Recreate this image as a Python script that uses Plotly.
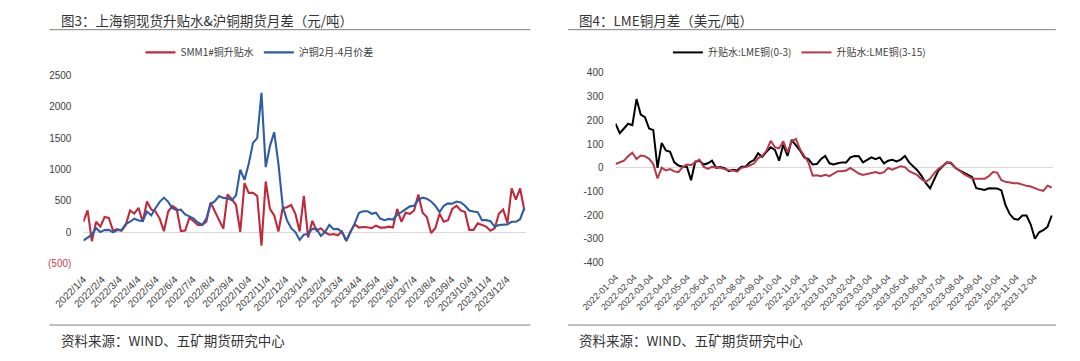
import plotly.graph_objects as go
import pandas as pd

# ---------------- data (weekly readings from the picture) ----------------
dates = pd.date_range("2022-01-04", periods=105, freq="7D")

# 图3: SMM1#铜升贴水 (元/吨)
smm_premium = [
    170, 350, -140, 170, 92, 246, 230, 26, 51, 26, 118, 350, 300, 390, 170, 492,
    364, 333, 220, 20, 333, 420, 374, 20, 30, 230, 180, 118, 118, 170, 477, 323,
    195, 60, 605, 528, 436, 10, 785, 630, 630, 580, -210, 810, 374, 272, 15, 385,
    400, 436, 297, 15, 580,
    -80, 185, 26, 67, 0, -36, -26, -46, 15, -138, 15, 128, 77, 87, 82, 67,
    108, 77, 77, 92, 77, 374, 169, 313, 297, 349, 605, 313, 246, -10, 67, 297,
    169, 195, 374, 425, 349, 323, 41, 41, 144, 118, 92, 26, 67, 297, 364, 150,
    700, 520, 700, 350,
]
# 图3: 沪铜2月-4月价差 (元/吨)
shfe_spread = [
    -130, -77, -36, 67, 5, 36, 40, 0, 36, 36, 133, 170, 220, 190, 180, 333,
    270, 385, 487, 554, 487, 385, 354, 364, 287, 256, 220, 159, 118, 220, 451, 497,
    580, 549, 544, 513, 590, 1000, 836, 1092, 1425, 1500, 2220, 1040, 1374, 1595, 1092, 425,
    195, 67, 5, -120, -36,
    -25, 56, 56, -56, 5, 118, 51, 56, 5, -130, 5, 144, 313, 338, 338, 297,
    313, 220, 195, 215, 205, 282, 323, 374, 415, 425, 518, 554, 538, 492, 425, 323,
    425, 462, 456, 492, 477, 425, 349, 333, 323, 195, 195, 179, 92, 118, 118, 128,
    169, 169, 210, 390,
]
# 图4: 升贴水:LME铜(0-3) (美元/吨)
lme_0_3 = [
    186, 146, 166, 186, 180, 290, 225, 214, 166, 159, 0, 105, 73, 68, 23, 10,
    5, 5, -52, 26, 30, 14, 19, 30, 0, 3, -1, -14, -8, -11, 5, 5,
    23, 33, 61, 46, 68, 87, 76, 30, 98, 50, 118, 95, 73, 44, 37, 14,
    16, 37, 50, 19, 14,
    19, 23, 23, 44, 50, 49, 23, 33, 44, 37, 44, 19, 30, 34, 27, 35,
    50, 23, 5, -11, -35, -65, -87, -45, -11, 7, 23, 19, 0, -11, -20, -31,
    -38, -86, -90, -93, -86, -88, -87, -95, -158, -195, -215, -219, -201, -201, -239, -299,
    -272, -263, -249, -201,
]
# 图4: 升贴水:LME铜(3-15) (美元/吨)
lme_3_15 = [
    16, 23, 30, 49, 64, 37, 52, 49, 38, 16, -45, 0, -11, -5, -15, -18,
    3, 14, 11, 24, 35, 5, -4, 4, 3, 0, -5, -10, -11, -16, 0, 3,
    10, 18, 41, 50, 73, 114, 87, 82, 112, 65, 112, 122, 78, 50, 23, -33,
    -31, -35, -29, -35, -24,
    -14, -14, -11, 0, -14, -24, -30, -27, -22, -18, -24, -18, 0, -8, 0, 7,
    3, -14, -22, -31, -49, -59, -46, -22, -4, 7, 23, 23, 0, -11, -26, -34,
    -45, -46, -45, -46, -35, -18, -20, -52, -59, -63, -65, -65, -72, -76, -79, -87,
    -93, -97, -75, -83,
]

month_ticks = [
    "2022-01-04", "2022-02-04", "2022-03-04", "2022-04-04", "2022-05-04", "2022-06-04",
    "2022-07-04", "2022-08-04", "2022-09-04", "2022-10-04", "2022-11-04", "2022-12-04",
    "2023-01-04", "2023-02-04", "2023-03-04", "2023-04-04", "2023-05-04", "2023-06-04",
    "2023-07-04", "2023-08-04", "2023-09-04", "2023-10-04", "2023-11-04", "2023-12-04",
]
left_tick_labels = [
    "2022/1/4", "2022/2/4", "2022/3/4", "2022/4/4", "2022/5/4", "2022/6/4",
    "2022/7/4", "2022/8/4", "2022/9/4", "2022/10/4", "2022/11/4", "2022/12/4",
    "2023/1/4", "2023/2/4", "2023/3/4", "2023/4/4", "2023/5/4", "2023/6/4",
    "2023/7/4", "2023/8/4", "2023/9/4", "2023/10/4", "2023/11/4", "2023/12/4",
]
right_tick_labels = month_ticks

left_y_vals = [-500, 0, 500, 1000, 1500, 2000, 2500]
left_y_text = ["<span style='color:#C8404F'>(500)</span>", "0", "500", "1000", "1500", "2000", "2500"]
right_y_vals = [-400, -300, -200, -100, 0, 100, 200, 300, 400]
right_y_text = ["-400", "-300", "-200", "-100", "0", "100", "200", "300", "400"]

# ---------------- styling ----------------
W, H = 1080, 361
def fx(p):
    return p / W
def fy(p):
    return 1 - p / H

FONT = "Liberation Sans, Noto Sans CJK SC, sans-serif"
CJK = "Noto Sans CJK SC, sans-serif"
RED_L = "#C0283C"
BLUE_L = "#2E5DA3"
RED_R = "#B8384A"
TXT = "#404040"

fig = go.Figure()
fig.add_trace(go.Scatter(x=dates, y=smm_premium, name="SMM1#铜升贴水", mode="lines",
                         line=dict(color=RED_L, width=2.1), xaxis="x", yaxis="y", legend="legend"))
fig.add_trace(go.Scatter(x=dates, y=shfe_spread, name="沪铜2月-4月价差", mode="lines",
                         line=dict(color=BLUE_L, width=2.1), xaxis="x", yaxis="y", legend="legend"))
fig.add_trace(go.Scatter(x=dates, y=lme_0_3, name="升贴水:LME铜(0-3)", mode="lines",
                         line=dict(color="#000000", width=2), xaxis="x2", yaxis="y2", legend="legend2"))
fig.add_trace(go.Scatter(x=dates, y=lme_3_15, name="升贴水:LME铜(3-15)", mode="lines",
                         line=dict(color=RED_R, width=2), xaxis="x2", yaxis="y2", legend="legend2"))

xcommon = dict(type="date", range=["2022-01-04", "2024-01-04"], tickvals=month_ticks,
               tickangle=-45, showgrid=False, zeroline=False, showline=False,
               ticks="outside", ticklen=5, tickcolor="rgba(0,0,0,0)")
fig.update_layout(
    width=W, height=H, margin=dict(l=0, r=0, t=0, b=0),
    paper_bgcolor="white", plot_bgcolor="white",
    font=dict(family=FONT, color=TXT),
    xaxis=dict(domain=[fx(50), fx(507)], anchor="y", ticktext=left_tick_labels,
               tickfont=dict(size=10, color=TXT), **xcommon),
    yaxis=dict(domain=[fy(266.7), fy(71.7)], anchor="x", range=[-500, 2500],
               tickvals=left_y_vals, ticktext=left_y_text, tickfont=dict(size=10, color=TXT),
               showgrid=False, zeroline=True, zerolinecolor="#D9D9D9", zerolinewidth=1,
               showline=False, ticks="outside", ticklen=9, tickcolor="rgba(0,0,0,0)"),
    xaxis2=dict(domain=[fx(600), fx(1052)], anchor="y2", ticktext=right_tick_labels,
                tickfont=dict(size=9, color=TXT), **xcommon),
    yaxis2=dict(domain=[fy(265.5), fy(69.3)], anchor="x2", range=[-400, 400],
                tickvals=right_y_vals, ticktext=right_y_text, tickfont=dict(size=10, color=TXT),
                showgrid=False, zeroline=True, zerolinecolor="#D9D9D9", zerolinewidth=1,
                showline=False, ticks="outside", ticklen=9, tickcolor="rgba(0,0,0,0)"),
    legend=dict(orientation="h", x=fx(232), xanchor="center", y=fy(48), yanchor="middle",
                font=dict(size=10, color=TXT, family=CJK), bgcolor="rgba(0,0,0,0)",
                itemwidth=30, tracegroupgap=0),
    legend2=dict(orientation="h", x=fx(790), xanchor="center", y=fy(48), yanchor="middle",
                 font=dict(size=10, color=TXT, family=CJK), bgcolor="rgba(0,0,0,0)",
                 itemwidth=30, tracegroupgap=0),
)

annos = [
    dict(text="图3：上海铜现货升贴水&沪铜期货月差（元/吨）", x=fx(25), y=fy(14)),
    dict(text="图4：LME铜月差（美元/吨）", x=fx(560), y=fy(14)),
    dict(text="资料来源：WIND、五矿期货研究中心", x=fx(25), y=fy(346)),
    dict(text="资料来源：WIND、五矿期货研究中心", x=fx(560), y=fy(346)),
]
for a in annos:
    fig.add_annotation(xref="paper", yref="paper", xanchor="left", yanchor="middle",
                       showarrow=False, font=dict(size=13.5, color="#333333", family=CJK), **a)

for (x0, x1) in [(15, 512), (551, 1055)]:
    for yy in (24.5, 330):
        fig.add_shape(type="line", xref="paper", yref="paper", x0=fx(x0), x1=fx(x1),
                      y0=fy(yy), y1=fy(yy), line=dict(color="#7F7F7F", width=1))

fig.write_html("out.html", config={"displayModeBar": False},
               post_script="document.body.style.margin='0';document.body.style.overflow='hidden';")
